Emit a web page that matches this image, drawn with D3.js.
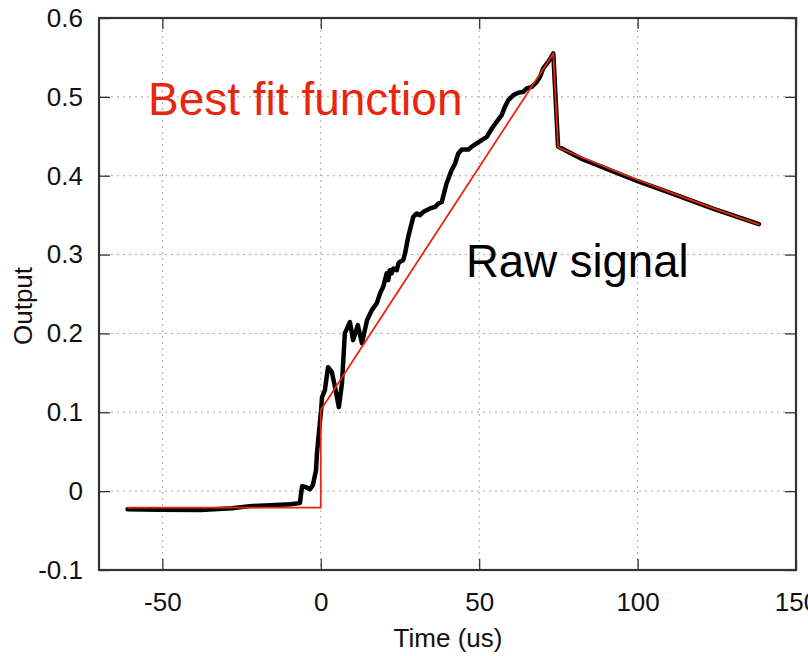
<!DOCTYPE html>
<html>
<head>
<meta charset="utf-8">
<script src="https://cdn.jsdelivr.net/npm/d3@7"></script>
<style>
  html, body { margin: 0; padding: 0; background: #fff; overflow: hidden; }
  svg { display: block; font-family: "Liberation Sans", Arial, Helvetica, sans-serif; }
</style>
</head>
<body>
<svg id="chart" width="808" height="656"></svg>
<script>
// Measured detector output (time in microseconds, output in arbitrary units)
const rawTime = [
  -61, -51, -38, -28, -22.4, -16, -9.7, -6.6, -5.9, -4.7, -3.4, -2.5, -1.5, -1.2, -0.6,
  0.1, 0.4, 1.3, 2.3, 3.5, 4.5, 5.7, 6.7, 7.6, 9.2, 10.2, 11.7, 13, 14.6, 16.1, 17.7,
  18.7, 19.7, 20.8, 21.3, 21.8, 22.4, 22.9, 24.0, 24.5, 25.0, 26.0, 26.6, 27.6, 29.2,
  30.3, 31.3, 32.4, 34.5, 36.1, 37.1, 38.2, 39.7, 41.3, 42.4, 43.4, 44.5, 46.6, 47.6,
  49.2, 50.8, 52.4, 54.0, 55.5, 57.1, 58.1, 59.2, 60.8, 62.3, 63.9, 65.0, 66.6, 68.2,
  69.2, 70.2, 71.8, 73.4,
  74.9, 82, 90.3, 100, 111.4, 124, 138.3
];
const rawOutput = [
  -0.023, -0.0235, -0.024, -0.0216, -0.019, -0.0178, -0.0165, -0.0152, 0.0063, 0.0051, 0.0025, 0.0076, 0.0266, 0.0482, 0.0735,
  0.1027, 0.1192, 0.1281, 0.1572, 0.1509, 0.1319, 0.1065, 0.137, 0.2004, 0.2143, 0.1915, 0.2105, 0.1877, 0.2168, 0.2295, 0.2384,
  0.2507, 0.2591, 0.2761, 0.2676, 0.2802, 0.2761, 0.2824, 0.2802, 0.2887, 0.2908, 0.2929, 0.3014, 0.3225, 0.3478,
  0.3521, 0.35, 0.3542, 0.3585, 0.3605, 0.3648, 0.3668, 0.3902, 0.4071, 0.4155, 0.4282, 0.4333, 0.4333, 0.4366,
  0.4409, 0.4451, 0.4493, 0.4599, 0.4683, 0.4768, 0.4873, 0.4958, 0.5022, 0.5051, 0.5063, 0.5107, 0.5127, 0.519,
  0.5254, 0.536, 0.5444, 0.555,
  0.437, 0.422, 0.4087, 0.393, 0.3766, 0.358, 0.3386
];

// Fitted model: flat baseline, step at t = 0, linear ramp, step down, slow decay
const fitTime = [-61, 0, 0, 73.4, 74.9, 85, 95, 105, 115, 125, 138.5];
const fitOutput = [-0.021, -0.021, 0.103, 0.555, 0.436, 0.419, 0.4025, 0.387, 0.372, 0.357, 0.338];

const xTicks = [-50, 0, 50, 100, 150];
const yTicks = [-0.1, 0, 0.1, 0.2, 0.3, 0.4, 0.5, 0.6];

const labels = {
  x: "Time (us)",
  y: "Output",
  fit: "Best fit function",
  raw: "Raw signal"
};

const svg = d3.select("#chart");
const plotLeft = 99, plotRight = 796, plotTop = 18, plotBottom = 570;

const x = d3.scaleLinear().domain([-70, 150]).range([plotLeft, plotRight]);
const y = d3.scaleLinear().domain([-0.1, 0.6]).range([plotBottom, plotTop]);

const frameColor = "#333";
const gridColor = "#a8a8a8";
const fitColor = "#e8260f";
const labelFont = "26px";

// dotted grid
const grid = svg.append("g");
grid.selectAll("line.gx").data(xTicks.filter(t => t > -70 && t < 150)).join("line")
  .attr("x1", d => x(d)).attr("x2", d => x(d))
  .attr("y1", plotTop).attr("y2", plotBottom)
  .attr("stroke", gridColor).attr("stroke-width", 1).attr("stroke-dasharray", "2,4");
grid.selectAll("line.gy").data(yTicks.filter(t => t > -0.1 && t < 0.6)).join("line")
  .attr("x1", plotLeft).attr("x2", plotRight)
  .attr("y1", d => y(d)).attr("y2", d => y(d))
  .attr("stroke", gridColor).attr("stroke-width", 1).attr("stroke-dasharray", "2,4");

// axes with inward ticks, mirrored on top and right; plain hyphen for negatives
const tickLen = 11;
const fmtX = d => String(d);
const fmtY = d => d === 0 ? "0" : d.toFixed(1);
const axisStyle = g => {
  g.select(".domain").remove();
  g.selectAll(".tick line").attr("stroke", frameColor).attr("stroke-width", 1.3);
  g.selectAll(".tick text").attr("fill", "#111").style("font-size", labelFont)
    .style("font-family", "'Liberation Sans', Arial, Helvetica, sans-serif");
};

svg.append("g").attr("transform", `translate(0,${plotBottom})`)
  .call(d3.axisBottom(x).tickValues(xTicks).tickSize(-tickLen).tickPadding(23).tickFormat(fmtX))
  .call(axisStyle);
svg.append("g").attr("transform", `translate(0,${plotTop})`)
  .call(d3.axisTop(x).tickValues(xTicks).tickSize(-tickLen).tickFormat(""))
  .call(axisStyle);
svg.append("g").attr("transform", `translate(${plotLeft},0)`)
  .call(d3.axisLeft(y).tickValues(yTicks).tickSize(-tickLen).tickPadding(16).tickFormat(fmtY))
  .call(axisStyle);
svg.append("g").attr("transform", `translate(${plotRight},0)`)
  .call(d3.axisRight(y).tickValues(yTicks).tickSize(-tickLen).tickFormat(""))
  .call(axisStyle);

// traces
const line = d3.line().x(d => x(d[0])).y(d => y(d[1]));
const rawData = rawTime.map((t, i) => [t, rawOutput[i]]);
const fitData = fitTime.map((t, i) => [t, fitOutput[i]]);

svg.append("path").datum(rawData)
  .attr("d", line).attr("fill", "none")
  .attr("stroke", "#000").attr("stroke-width", 4.5)
  .attr("stroke-linejoin", "round").attr("stroke-linecap", "round");
svg.append("path").datum(fitData)
  .attr("d", line).attr("fill", "none")
  .attr("stroke", fitColor).attr("stroke-width", 1.8)
  .attr("stroke-linejoin", "miter");

// plot frame
svg.append("rect")
  .attr("x", plotLeft).attr("y", plotTop)
  .attr("width", plotRight - plotLeft).attr("height", plotBottom - plotTop)
  .attr("fill", "none").attr("stroke", frameColor).attr("stroke-width", 2.2);

// annotations
svg.append("text").attr("x", 148).attr("y", 115)
  .attr("fill", fitColor).style("font-size", "46px").text(labels.fit);
svg.append("text").attr("x", 466).attr("y", 277)
  .attr("fill", "#000").style("font-size", "45.5px").text(labels.raw);

// axis titles
svg.append("text")
  .attr("x", 448).attr("y", 647)
  .attr("text-anchor", "middle").attr("fill", "#111")
  .style("font-size", labelFont).text(labels.x);
svg.append("text")
  .attr("transform", "translate(32,306) rotate(-90)")
  .attr("text-anchor", "middle").attr("fill", "#111")
  .style("font-size", labelFont).text(labels.y);
</script>
</body>
</html>
